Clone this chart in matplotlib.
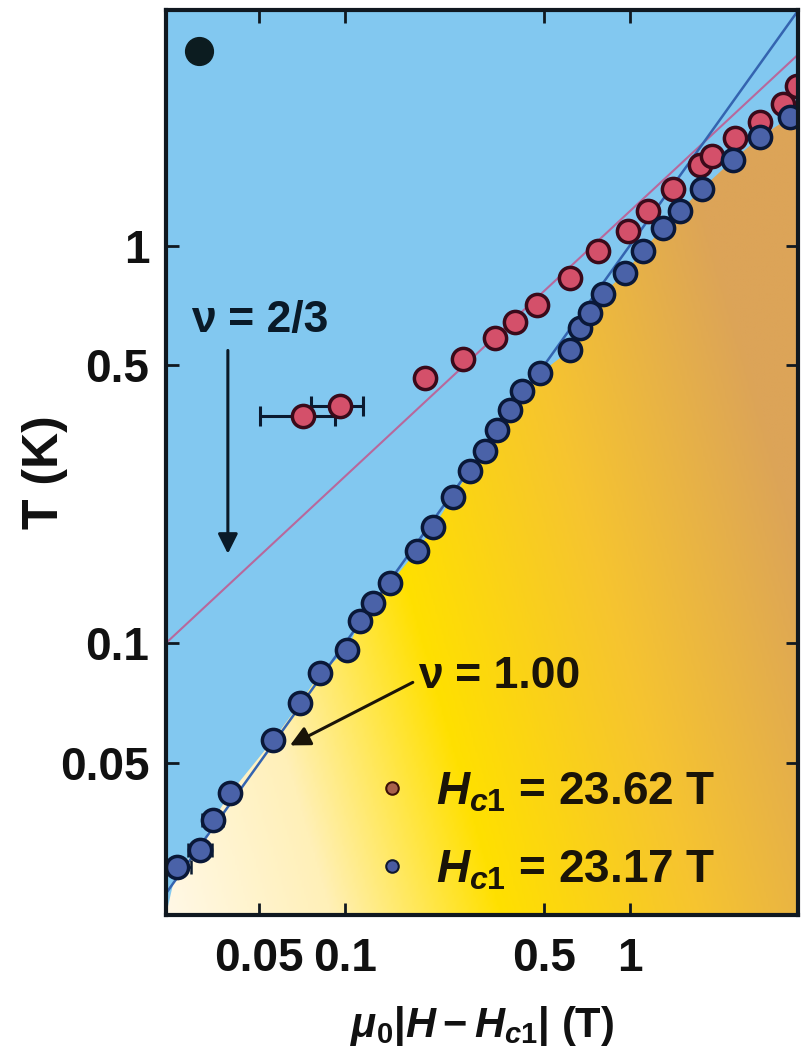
import numpy as np
import matplotlib
matplotlib.use("Agg")
import matplotlib.pyplot as plt
from matplotlib.lines import Line2D
from matplotlib.patches import Polygon
from matplotlib.colors import LinearSegmentedColormap

plt.rcParams['font.family'] = ['Liberation Sans', 'DejaVu Sans']
plt.rcParams['font.weight'] = 'bold'
plt.rcParams['mathtext.fontset'] = 'custom'
plt.rcParams['mathtext.it'] = 'Liberation Sans:italic:bold'
plt.rcParams['mathtext.rm'] = 'Liberation Sans:bold'
plt.rcParams['mathtext.bf'] = 'Liberation Sans:bold'

# Transition temperature vs distance from the critical field
h_red = [0.0712, 0.0960, 0.191, 0.259, 0.336, 0.395, 0.472, 0.616, 0.772,
         0.984, 1.16, 1.42, 1.76, 1.94, 2.34, 2.86, 3.44, 3.85]
t_red = [0.374, 0.396, 0.466, 0.520, 0.587, 0.641, 0.707, 0.831, 0.971,
         1.09, 1.22, 1.39, 1.59, 1.68, 1.86, 2.04, 2.27, 2.52]
herr_red = [0.021, 0.020] + [0.0] * 16

h_blue = [0.0257, 0.0310, 0.0344, 0.0395, 0.0559, 0.0695, 0.0817, 0.1016,
          0.113, 0.125, 0.144, 0.179, 0.204, 0.239, 0.275, 0.310, 0.341,
          0.379, 0.418, 0.483, 0.616, 0.668, 0.724, 0.804, 0.960, 1.11,
          1.31, 1.50, 1.79, 2.30, 2.86, 3.64]
t_blue = [0.0274, 0.0302, 0.0359, 0.0420, 0.0571, 0.0707, 0.0841, 0.0960,
          0.114, 0.126, 0.1415, 0.171, 0.196, 0.233, 0.272, 0.305, 0.343,
          0.385, 0.432, 0.477, 0.545, 0.622, 0.675, 0.757, 0.851, 0.971,
          1.11, 1.22, 1.39, 1.64, 1.87, 2.10]
herr_blue = [0.003, 0.003, 0.003] + [0.0] * 29

legend_labels = [r'$H_{c1}$ = 23.62 T', r'$H_{c1}$ = 23.17 T']

# Power-law guides T = A * H^p
red_fit = (1.22, 2.0 / 3.0)
blue_fit = (1.0, 1.0)

x_ticks = [0.05, 0.1, 0.5, 1]
x_ticklabels = ['0.05', '0.1', '0.5', '1']
y_ticks = [0.05, 0.1, 0.5, 1]
y_ticklabels = ['0.05', '0.1', '0.5', '1']

XLIM = (0.02354, 3.89)
YLIM = (0.02075, 3.90)

fig = plt.figure(figsize=(8.1, 10.47), dpi=100)
ax = fig.add_axes([0.205, 0.126, 0.780, 0.864])
ax.set_xscale('log')
ax.set_yscale('log')
ax.set_xlim(*XLIM)
ax.set_ylim(*YLIM)

# Background: sky blue above the phase boundary, warm gradient below it
ax.set_facecolor('#82c8f0')
warm = LinearSegmentedColormap.from_list(
    'warm', [(0.0, '#fff8e6'), (0.22, '#fff0b8'), (0.45, '#ffe000'),
             (0.72, '#f6c430'), (1.0, '#dca458')])
u, v = np.meshgrid(np.linspace(0, 1, 300), np.linspace(0, 1, 300))
tgrad = np.clip(0.85 * u + 0.35 * v, 0, 1)
img = ax.imshow(warm(tgrad), extent=[0, 1, 0, 1], origin='lower',
                transform=ax.transAxes, aspect='auto', zorder=0,
                interpolation='bilinear')
slope_end = np.log(t_blue[-1] / t_blue[-2]) / np.log(h_blue[-1] / h_blue[-2])
t_edge = t_blue[-1] * (XLIM[1] / h_blue[-1]) ** slope_end
verts = [(XLIM[0], YLIM[0])] + list(zip(h_blue, t_blue)) + \
        [(XLIM[1], t_edge), (XLIM[1], YLIM[0])]
boundary = Polygon(verts, closed=True, transform=ax.transData,
                   facecolor='none', edgecolor='none')
ax.add_patch(boundary)
img.set_clip_path(boundary)

# Guide lines
xx = np.logspace(np.log10(XLIM[0]), np.log10(XLIM[1]), 200)
ax.plot(xx, red_fit[0] * xx ** red_fit[1], color='#b8689c', lw=1.5, zorder=2)
ax.plot(xx, blue_fit[0] * xx ** blue_fit[1], color='#3464b0', lw=1.8, zorder=2)

# Data
ax.errorbar(h_red, t_red, xerr=herr_red, fmt='none', ecolor='#0a1a30',
            elinewidth=2.2, capsize=7, capthick=2.2, zorder=3)
ax.errorbar(h_blue, t_blue, xerr=herr_blue, fmt='none', ecolor='#0a1a30',
            elinewidth=1.8, capsize=5, capthick=1.8, zorder=3)
ax.plot(h_red, t_red, ls='none', marker='o', ms=16, mfc='#d4506a',
        mec='#3a0a1a', mew=2.5, zorder=4)
ax.plot(h_blue, t_blue, ls='none', marker='o', ms=16, mfc='#4a62a8',
        mec='#0a1838', mew=2.5, zorder=4)

# Panel bullet
ax.plot([0.0307], [3.09], ls='none', marker='o', ms=20, color='#0c1c20',
        zorder=5)

# Exponent annotations
ax.text(0.0503, 0.648, '\u03bd = 2/3', fontsize=32, fontweight='bold',
        ha='center', va='center', color='#0a1a28', zorder=6)
ax.annotate('', xy=(0.0388, 0.168), xytext=(0.0388, 0.545),
            arrowprops=dict(arrowstyle='-|>', color='#0a1a28', lw=2.2,
                            mutation_scale=30, shrinkA=0, shrinkB=0),
            zorder=6)
ax.text(0.180, 0.0826, '\u03bd = 1.00', fontsize=32, fontweight='bold',
        ha='left', va='center', color='#1a1408', zorder=6)
ax.annotate('', xy=(0.0641, 0.0554), xytext=(0.173, 0.0798),
            arrowprops=dict(arrowstyle='-|>', color='#1a1408', lw=2.2,
                            mutation_scale=30, shrinkA=0, shrinkB=0),
            zorder=6)

# Legend
handles = [Line2D([], [], ls='none', marker='o', ms=9, mfc='#a8604a',
                  mec='#3a1008', mew=1.5),
           Line2D([], [], ls='none', marker='o', ms=9, mfc='#4a5aa0',
                  mec='#101830', mew=1.5)]
leg = ax.legend(handles, legend_labels, loc='lower left',
                bbox_to_anchor=(0.34, 0.025), frameon=False,
                handlelength=0.5, handletextpad=0.7, labelspacing=0.75,
                borderpad=0, borderaxespad=0,
                prop={'size': 33, 'weight': 'bold'})
for txt in leg.get_texts():
    txt.set_color('#1a1408')

# Axes styling
ax.set_xticks(x_ticks)
ax.set_xticklabels(x_ticklabels)
ax.set_yticks(y_ticks)
ax.set_yticklabels(y_ticklabels)
ax.minorticks_off()
ax.tick_params(which='both', direction='in', top=True, right=True,
               length=9, width=2, color='#101820', labelsize=33,
               labelcolor='#111111')
ax.tick_params(axis='x', pad=16)
ax.tick_params(axis='y', pad=12)
for lab in ax.get_xticklabels() + ax.get_yticklabels():
    lab.set_fontweight('bold')
for sp in ax.spines.values():
    sp.set_linewidth(3)
    sp.set_color('#101820')
    sp.set_zorder(7)

ax.set_xlabel(r'$\mu_0|H-H_{c1}|$ (T)', fontsize=30, fontweight='bold',
              labelpad=16, color='#111111')
ax.set_ylabel('T (K)', fontsize=36, fontweight='bold', color='#111111')
ax.yaxis.set_label_coords(-0.155, 0.49)

fig.savefig('out.png', dpi=100)
